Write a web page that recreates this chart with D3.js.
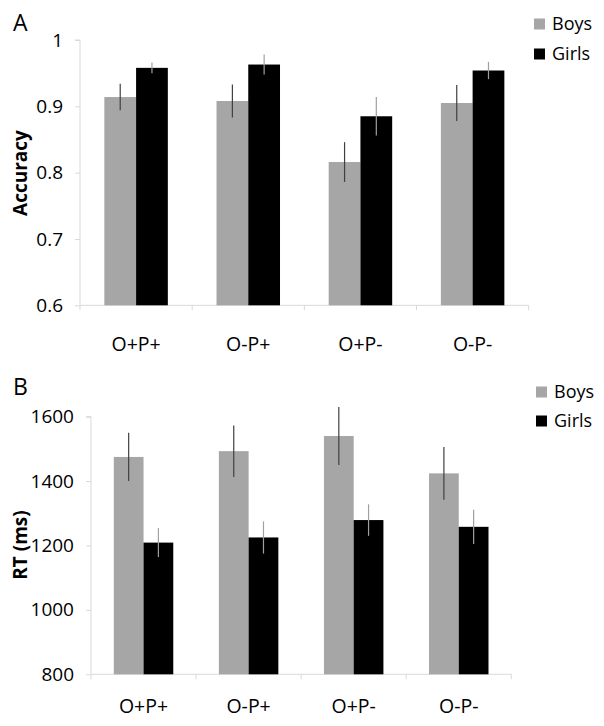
<!DOCTYPE html>
<html><head><meta charset="utf-8">
<script src="https://cdn.jsdelivr.net/npm/d3@7"></script>
<style>
body{margin:0;background:#fff;}
text{font-family:"Open Sans",sans-serif;fill:#000;}
</style></head>
<body>
<svg id="chart" width="604" height="726"></svg>
<script>
const categories = ["O+P+", "O-P+", "O+P-", "O-P-"];
const seriesNames = ["Boys", "Girls"];
// Panel A: Accuracy
const accBoys = [0.914, 0.908, 0.816, 0.905];
const accGirls = [0.958, 0.963, 0.885, 0.954];
const accBoysErr = [0.020, 0.025, 0.030, 0.027];
const accGirlsErr = [0.008, 0.015, 0.029, 0.013];
const accTicks = [0.6, 0.7, 0.8, 0.9, 1];
// Panel B: RT (ms)
const rtBoys = [1475, 1493, 1540, 1424];
const rtGirls = [1209, 1225, 1279, 1258];
const rtBoysErr = [75, 80, 90, 82];
const rtGirlsErr = [45, 50, 49, 53];
const rtTicks = [800, 1000, 1200, 1400, 1600];

const colors = {Boys: "#a6a6a6", Girls: "#000000"};
const errColors = {Boys: "#404040", Girls: "#a0a0a0"};

const svg = d3.select("#chart");

function panel(cfg) {
  const g = svg.append("g");
  const x = d3.scaleBand().domain(categories).range([cfg.x0, cfg.x1]).paddingInner(0).paddingOuter(0);
  const y = d3.scaleLinear().domain(cfg.domain).range([cfg.yBottom, cfg.yTop]);
  const bw = x.bandwidth();
  const groupW = bw * 0.566;
  const xs = d3.scaleBand().domain(seriesNames).range([0, groupW]);

  // y axis
  const yAxis = d3.axisLeft(y).tickValues(cfg.ticks).tickSize(5).tickPadding(12).tickFormat(cfg.fmt);
  const ya = g.append("g").attr("transform", `translate(${cfg.x0},0)`).call(yAxis);
  ya.select(".domain").attr("stroke", "#d9d9d9").attr("d", `M-5,${cfg.yTop}H0V${cfg.yBottom}`);
  ya.selectAll(".tick line").attr("stroke", "#d9d9d9");
  ya.selectAll(".tick text").attr("font-size", 19).attr("font-family", "Open Sans").attr("fill", "#000");

  // x axis
  const xb = g.append("g").attr("transform", `translate(0,${cfg.yBottom})`);
  xb.append("line").attr("x1", cfg.x0).attr("x2", cfg.x1).attr("stroke", "#d9d9d9");
  const bounds = categories.map(c => x(c)).concat([x(categories[categories.length-1]) + bw]);
  xb.selectAll(".xt").data(bounds).join("line")
    .attr("x1", d => d).attr("x2", d => d).attr("y1", 0).attr("y2", 5).attr("stroke", "#d9d9d9");
  xb.selectAll(".xl").data(categories).join("text")
    .attr("x", d => x(d) + bw / 2).attr("y", cfg.labelDy)
    .attr("text-anchor", "middle").attr("font-size", 19.5).text(d => d);

  // bars
  const data = [];
  categories.forEach((c, i) => {
    data.push({c, s: "Boys", v: cfg.boys[i], e: cfg.boysErr[i]});
    data.push({c, s: "Girls", v: cfg.girls[i], e: cfg.girlsErr[i]});
  });
  const off = (bw - groupW) / 2;
  g.selectAll(".bar").data(data).join("rect")
    .attr("x", d => x(d.c) + off + xs(d.s))
    .attr("width", xs.bandwidth())
    .attr("y", d => y(d.v))
    .attr("height", d => cfg.yBottom - y(d.v))
    .attr("fill", d => colors[d.s]);
  g.selectAll(".err").data(data).join("line")
    .attr("x1", d => x(d.c) + off + xs(d.s) + xs.bandwidth() / 2)
    .attr("x2", d => x(d.c) + off + xs(d.s) + xs.bandwidth() / 2)
    .attr("y1", d => y(d.v + d.e)).attr("y2", d => y(d.v - d.e))
    .attr("stroke", d => errColors[d.s]).attr("stroke-width", 1.2);

  // y title
  g.append("text").attr("transform", `translate(${cfg.titleX},${cfg.titleY}) rotate(-90)`)
    .attr("text-anchor", "middle").attr("font-weight", "bold").attr("font-size", 19)
    .attr("dy", "0.35em").text(cfg.title);

  // panel letter
  g.append("text").attr("x", cfg.letterX).attr("y", cfg.letterY).attr("font-size", 23).text(cfg.letter);

  // legend
  const lg = g.append("g");
  seriesNames.forEach((s, i) => {
    const ly = cfg.legY + i * cfg.legStep;
    lg.append("rect").attr("x", cfg.legX).attr("y", ly - 5.5).attr("width", 11).attr("height", 11).attr("fill", colors[s]);
    lg.append("text").attr("x", cfg.legX + 18).attr("y", ly).attr("dy", "0.35em").attr("font-size", 18).text(s);
  });
}

panel({
  x0: 80, x1: 528.7, yTop: 40, yBottom: 305.3, domain: [0.6, 1], ticks: accTicks,
  fmt: d => d === 1 ? "1" : d3.format(".1f")(d),
  boys: accBoys, girls: accGirls, boysErr: accBoysErr, girlsErr: accGirlsErr,
  labelDy: 46, title: "Accuracy", titleX: 20, titleY: 173, letter: "A", letterX: 13, letterY: 31,
  legX: 534, legY: 24, legStep: 30
});
panel({
  x0: 91, x1: 511.3, yTop: 416.7, yBottom: 674.3, domain: [800, 1600], ticks: rtTicks,
  fmt: d3.format("d"),
  boys: rtBoys, girls: rtGirls, boysErr: rtBoysErr, girlsErr: rtGirlsErr,
  labelDy: 39, title: "RT (ms)", titleX: 20, titleY: 545, letter: "B", letterX: 13, letterY: 395,
  legX: 536, legY: 392, legStep: 29
});
</script>
</body></html>
